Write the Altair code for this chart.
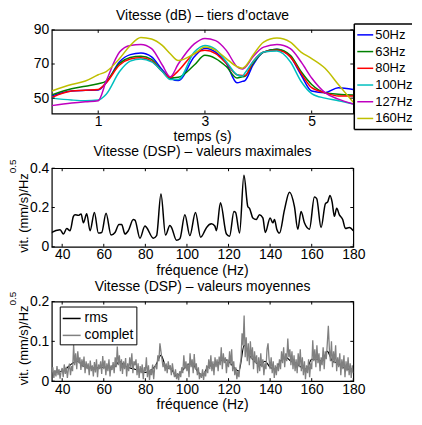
import altair as alt
import pandas as pd

FONT = "Liberation Sans"

# ---------------- top panel: levels (dB) per third-octave band vs time
times = [0.13, 0.5, 0.76, 1.0, 1.15, 1.4, 1.6, 1.8, 2.0, 2.2, 2.35, 2.5, 2.8, 3.0,
         3.2, 3.4, 3.6, 3.7, 3.75, 3.9, 4.1, 4.35, 4.6, 4.8, 5.0, 5.25, 5.5, 5.78]
band_names = ["50Hz", "63Hz", "80Hz", "100Hz", "127Hz", "160Hz"]
band_colors = ["#0000ff", "#008000", "#ff0000", "#00bfbf", "#bf00bf", "#bfbf00"]
lvl_50 = [51.3, 54.2, 54.6, 54.8, 59.0, 71.3, 75.5, 76.5, 74.2, 66.6, 61.8, 60.3, 74.2, 79.3,
          77.0, 70.4, 59.0, 59.8, 60.3, 69.4, 77.0, 78.6, 74.2, 63.7, 54.2, 53.2, 56.1, 55.1]
lvl_63 = [51.9, 55.5, 57.0, 58.4, 60.0, 70.4, 73.8, 74.6, 72.7, 65.6, 61.8, 62.2, 69.4, 75.1,
          73.2, 68.5, 61.8, 62.5, 62.8, 70.4, 77.0, 78.6, 75.1, 65.6, 58.0, 53.2, 52.3, 51.9]
lvl_80 = [50.4, 54.2, 54.6, 55.1, 59.0, 69.4, 72.9, 73.6, 71.7, 65.6, 62.3, 66.0, 76.1, 78.0,
          76.1, 70.4, 63.7, 63.3, 63.3, 71.3, 77.0, 78.0, 74.2, 64.7, 56.1, 53.2, 51.3, 51.3]
lvl_100 = [50.0, 48.9, 48.5, 48.9, 52.3, 65.6, 71.7, 72.9, 71.3, 65.6, 60.9, 60.9, 77.0, 80.9,
           78.6, 71.3, 63.7, 62.8, 64.7, 71.3, 77.0, 77.6, 71.3, 59.9, 52.7, 50.0, 48.5, 46.6]
lvl_127 = [45.6, 47.1, 47.9, 48.5, 60.0, 77.0, 80.9, 81.4, 79.0, 69.4, 62.5, 70.0, 81.8, 85.0,
           83.7, 78.0, 68.5, 67.0, 67.9, 74.2, 79.9, 81.4, 79.0, 71.3, 61.8, 53.2, 49.4, 46.6]
lvl_160 = [54.2, 58.0, 60.0, 63.7, 65.6, 73.2, 80.9, 85.6, 84.7, 80.9, 76.0, 72.0, 76.0, 79.9,
           78.0, 73.2, 68.5, 67.5, 68.5, 75.1, 82.8, 85.2, 82.8, 77.0, 73.2, 67.5, 58.0, 47.5]
top_xticks = [1, 3, 5]
top_yticks = [50, 70, 90]

# ---------------- middle panel: PSD maxima
max_f = [34.7, 35.0, 39.0, 40.6, 42.2, 43.8, 45.4, 46.2, 47.8, 49.1, 50.2, 51.8, 53.4, 55.5,
         57.4, 59.0, 61.1, 63.5, 65.4, 67.3, 68.6, 70.2, 71.8, 74.2, 75.0, 77.4, 79.8, 80.6,
         83.8, 85.4, 87.5, 89.7, 91.8, 92.6, 95.0, 96.6, 99.0, 101.4, 104.1, 106.6, 108.6,
         109.4, 111.8, 113.4, 114.2, 116.1, 119.0, 120.5, 122.6, 123.4, 125.3, 127.4, 129.3,
         130.1, 131.7, 133.3, 134.9, 136.5, 137.7, 140.0, 141.3, 142.1, 143.2, 144.5, 146.9,
         149.3, 151.7, 153.3, 154.9, 156.5, 158.9, 161.3, 162.4, 164.5, 166.6, 167.7, 168.8,
         169.8, 170.9, 172.0, 173.3, 174.9, 176.2, 178.1, 180.0]
max_v = [0.069, 0.073, 0.087, 0.065, 0.093, 0.082, 0.155, 0.163, 0.160, 0.167, 0.122, 0.168,
         0.082, 0.175, 0.070, 0.073, 0.171, 0.060, 0.073, 0.114, 0.114, 0.065, 0.082, 0.139,
         0.136, 0.044, 0.106, 0.098, 0.044, 0.057, 0.269, 0.060, 0.109, 0.098, 0.033, 0.041,
         0.163, 0.057, 0.175, 0.049, 0.082, 0.098, 0.118, 0.106, 0.082, 0.224, 0.065, 0.054,
         0.180, 0.175, 0.070, 0.364, 0.204, 0.196, 0.147, 0.139, 0.163, 0.147, 0.073, 0.147,
         0.122, 0.139, 0.090, 0.070, 0.188, 0.278, 0.204, 0.090, 0.180, 0.122, 0.090, 0.253,
         0.245, 0.098, 0.220, 0.229, 0.261, 0.229, 0.155, 0.196, 0.163, 0.139, 0.093, 0.098,
         0.082]
max_yticks = [0, 0.2, 0.4]
freq_ticks = [40, 60, 80, 100, 120, 140, 160, 180]

# ---------------- bottom panel: PSD averages (complete spectrum, 0.5 Hz steps from 35 Hz)
full_start, full_step = 35.0, 0.5
full_v_milli = [
    20, 35, 8, 28, 12, 38, 15, 30, 6, 25,
    33, 10, 42, 18, 36, 8, 30, 44, 15, 38,
    25, 92, 40, 70, 30, 75, 45, 60, 28, 55,
    35, 62, 20, 50, 30, 45, 15, 52, 25, 40,
    12, 48, 22, 55, 10, 42, 30, 50, 18, 63,
    30, 52, 15, 45, 25, 55, 12, 40, 28, 48,
    20, 60, 35, 87, 40, 65, 25, 55, 18, 50,
    30, 58, 12, 45, 25, 60, 35, 70, 20, 50,
    40, 55, 15, 45, 8, 38, 20, 42, 5, 35,
    25, 60, 10, 40, 3, 30, 15, 42, 5, 35,
    40, 30, 65, 50, 95, 75, 55, 35, 48, 25,
    45, 20, 50, 30, 40, 15, 45, 25, 10, 30,
    5, 20, 2, 25, 10, 35, 20, 65, 30, 50,
    25, 45, 10, 70, 35, 55, 20, 68, 30, 45,
    15, 35, 5, 20, 8, 30, 3, 25, 12, 40,
    20, 55, 30, 65, 25, 50, 15, 60, 35, 55,
    25, 62, 40, 85, 30, 70, 45, 60, 20, 55,
    35, 75, 40, 80, 25, 50, 15, 35, 5, 25,
    10, 40, 55, 120, 90, 165, 60, 110, 50, 95,
    40, 100, 55, 85, 30, 75, 45, 65, 20, 60,
    25, 70, 35, 55, 15, 45, 30, 80, 95, 55,
    30, 60, 20, 50, 8, 40, 15, 45, 25, 55,
    30, 75, 45, 85, 35, 70, 50, 107, 60, 80,
    40, 75, 30, 65, 25, 55, 20, 70, 35, 80,
    25, 60, 15, 50, 5, 40, 20, 55, 10, 45,
    30, 103, 50, 80, 35, 90, 45, 70, 25, 60,
    40, 85, 30, 75, 55, 95, 139, 80, 50, 100,
    35, 75, 45, 90, 25, 60, 35, 70, 15, 55,
    30, 65, 10, 50, 25, 60, 15, 45, 8, 40,
    20,
]
rms_f = [35, 40, 45, 47.5, 50, 55, 60, 65, 67.5, 70, 75, 80, 85, 87.5, 90, 92.5, 95, 97.5,
         100, 102.5, 105, 107.5, 110, 115, 117.5, 120, 122.5, 125, 127.5, 130, 132.5, 135,
         137.5, 140, 142.5, 145, 147.5, 150, 152.5, 155, 157.5, 160, 162.5, 165, 167.5, 170,
         172.5, 175, 177.5, 180]
rms_v = [0.022, 0.025, 0.045, 0.05, 0.038, 0.033, 0.035, 0.035, 0.05, 0.038, 0.03, 0.022,
         0.04, 0.065, 0.035, 0.03, 0.012, 0.025, 0.04, 0.045, 0.025, 0.015, 0.035, 0.045,
         0.055, 0.05, 0.035, 0.025, 0.09, 0.065, 0.05, 0.04, 0.05, 0.035, 0.03, 0.05, 0.06,
         0.05, 0.045, 0.035, 0.03, 0.055, 0.055, 0.05, 0.075, 0.05, 0.045, 0.035, 0.03, 0.03]
avg_yticks = [0, 0.1, 0.2]
avg_names = ["rms", "complet"]
avg_colors = ["#000000", "#808080"]

# ---------------- geometry
W = 303
H1, H2, H3 = 84, 79, 80
one = pd.DataFrame({"a": [0]})


def tick_marks(xvals, yvals, xenc_axis, yenc_axis, xscale, yscale, h):
    dx = pd.DataFrame({"v": xvals})
    dy = pd.DataFrame({"v": yvals})
    xs = alt.X("v:Q", scale=xscale, axis=xenc_axis)
    ys = alt.Y("v:Q", scale=yscale, axis=yenc_axis)
    return [
        alt.Chart(dx).mark_rule(color="black").encode(x=xs, y=alt.value(h), y2=alt.value(h - 3)),
        alt.Chart(dx).mark_rule(color="black").encode(x=xs, y=alt.value(0), y2=alt.value(3)),
        alt.Chart(dy).mark_rule(color="black").encode(y=ys, x=alt.value(0), x2=alt.value(3)),
        alt.Chart(dy).mark_rule(color="black").encode(y=ys, x=alt.value(W), x2=alt.value(W - 3)),
    ]


def ylabel(end_y):
    main = alt.Chart(one).mark_text(
        text="vit. (mm/s)/Hz", angle=270, align="right", baseline="alphabetic",
        fontSize=13, font=FONT, color="black",
    ).encode(x=alt.value(-24), y=alt.value(end_y))
    sup = alt.Chart(one).mark_text(
        text="0.5", angle=270, align="left", baseline="alphabetic",
        fontSize=10, font=FONT, color="black",
    ).encode(x=alt.value(-36), y=alt.value(end_y))
    return [main, sup]


def label(txt, y):
    return alt.Chart(one).mark_text(
        text=txt, align="center", baseline="alphabetic", fontSize=14, font=FONT, color="black",
    ).encode(x=alt.value(W / 2), y=alt.value(y))


def xaxis(vals):
    return alt.Axis(values=vals, title=None, labelPadding=1, labelFlush=False,
                    labelOverlap=False)


def yaxis(vals, fmt=None):
    if fmt:
        return alt.Axis(values=vals, title=None, labelPadding=3, labelFlush=False, format=fmt)
    return alt.Axis(values=vals, title=None, labelPadding=3, labelFlush=False)


# ---------- top chart
top_rows = []
for name, vals in zip(band_names, [lvl_50, lvl_63, lvl_80, lvl_100, lvl_127, lvl_160]):
    for t, v in zip(times, vals):
        top_rows.append({"t": t, "v": v, "band": name})
top_df = pd.DataFrame(top_rows)
tx = alt.Scale(domain=[0.13, 5.78], nice=False, zero=False, padding=0)
ty = alt.Scale(domain=[41, 90], nice=False, zero=False, padding=0)
band_color = alt.Scale(domain=band_names, range=band_colors)
top_xaxis = xaxis(top_xticks)

top_lines = alt.Chart(top_df).mark_line(interpolate="monotone", strokeWidth=1.5, clip=True).encode(
    x=alt.X("t:Q", scale=tx, axis=top_xaxis),
    y=alt.Y("v:Q", scale=ty, axis=yaxis(top_yticks)),
    color=alt.Color("band:N", scale=band_color, legend=None),
)
LX0, LX1, LY0, LY1 = 304, 362, -6, 100
leg_bg = alt.Chart(one).mark_rect(fill="white").encode(
    x=alt.value(LX0), x2=alt.value(LX1), y=alt.value(LY0), y2=alt.value(LY1))
leg_top = alt.Chart(one).mark_rule(color="black", strokeWidth=1.5).encode(
    x=alt.value(LX0), x2=alt.value(LX1), y=alt.value(LY0))
leg_bot = alt.Chart(one).mark_rule(color="black", strokeWidth=1.5).encode(
    x=alt.value(LX0), x2=alt.value(LX1), y=alt.value(LY1))
leg_left = alt.Chart(one).mark_rule(color="black", strokeWidth=1.5).encode(
    x=alt.value(LX0), y=alt.value(LY0), y2=alt.value(LY1))
leg_df = pd.DataFrame({"band": band_names})
leg_y = alt.Y("band:N", scale=alt.Scale(type="point", domain=band_names, range=[5, 89], padding=0),
              axis=None)
leg_sym = alt.Chart(leg_df).mark_rule(strokeWidth=1.5).encode(
    x=alt.value(307), x2=alt.value(323), y=leg_y,
    color=alt.Color("band:N", scale=band_color, legend=None))
leg_txt = alt.Chart(leg_df).mark_text(align="left", baseline="middle", fontSize=13, font=FONT,
                                      color="black").encode(
    x=alt.value(325), y=leg_y, text="band:N")

top = alt.layer(
    top_lines, *tick_marks(top_xticks, top_yticks, top_xaxis, None, tx, ty, H1),
    leg_bg, leg_top, leg_bot, leg_left, leg_sym, leg_txt,
    label("Vitesse (dB) – tiers d’octave", -10),
    label("temps (s)", H1 + 27.5),
).resolve_scale(y="independent").properties(width=W, height=H1)

# ---------- middle chart
fx = alt.Scale(domain=[35, 180], nice=False, zero=False, padding=0)
my = alt.Scale(domain=[0, 0.4], nice=False, padding=0)
freq_axis = xaxis(freq_ticks)
mid_yaxis = yaxis(max_yticks, "~g")
max_df = pd.DataFrame({"f": max_f, "v": max_v})
mid_line = alt.Chart(max_df).mark_line(interpolate="monotone", color="black", strokeWidth=1.5,
                                       clip=True).encode(
    x=alt.X("f:Q", scale=fx, axis=freq_axis),
    y=alt.Y("v:Q", scale=my, axis=mid_yaxis),
)
mid = alt.layer(
    mid_line, *tick_marks(freq_ticks, max_yticks, freq_axis, mid_yaxis, fx, my, H2),
    *ylabel(5), label("Vitesse (DSP) – valeurs maximales", -12.5),
    label("fréquence (Hz)", H2 + 28),
).properties(width=W, height=H2)

# ---------- bottom chart
ay = alt.Scale(domain=[0, 0.2], nice=False, padding=0)
bot_yaxis = yaxis(avg_yticks, "~g")
full_df = pd.DataFrame({
    "f": [full_start + full_step * i for i in range(len(full_v_milli))],
    "v": [m / 1000 for m in full_v_milli],
    "s": "complet",
})
rms_df = pd.DataFrame({"f": rms_f, "v": rms_v, "s": "rms"})
avg_color = alt.Color("s:N", scale=alt.Scale(domain=avg_names, range=avg_colors),
                      legend=alt.Legend(orient="none", legendX=8, legendY=5, title=None,
                                        strokeColor="black", fillColor="white", padding=2,
                                        symbolType="stroke", symbolSize=324,
                                        symbolStrokeWidth=1.5, labelFontSize=14,
                                        labelFont=FONT, labelColor="black", rowPadding=0,
                                        labelOffset=3))
rms_line = alt.Chart(rms_df).mark_line(interpolate="monotone", strokeWidth=1.2, clip=True).encode(
    x=alt.X("f:Q", scale=fx, axis=freq_axis),
    y=alt.Y("v:Q", scale=ay, axis=bot_yaxis),
    color=avg_color,
)
full_line = alt.Chart(full_df).mark_line(strokeWidth=1.3, clip=True).encode(
    x=alt.X("f:Q", scale=fx, axis=freq_axis),
    y=alt.Y("v:Q", scale=ay, axis=bot_yaxis),
    color=avg_color,
)
bot = alt.layer(
    rms_line, full_line, *tick_marks(freq_ticks, avg_yticks, freq_axis, bot_yaxis, fx, ay, H3),
    *ylabel(4), label("Vitesse (DSP) – valeurs moyennes", -11),
    label("fréquence (Hz)", H3 + 28),
).properties(width=W, height=H3)

chart = alt.vconcat(top, mid, bot, spacing=55, bounds="flush").resolve_scale(
    color="independent"
).properties(
    padding={"left": -1, "top": -1, "right": 0, "bottom": 0}
).configure_view(stroke="black", strokeWidth=1.2).configure_axis(
    domain=False, ticks=False, tickSize=0, grid=False, labelFont=FONT, labelFontSize=14,
    labelColor="black", titleFont=FONT, titleFontSize=14, titleFontWeight="normal",
    titleColor="black",
).configure_text(font=FONT)

chart.save("out.html", embed_options={"renderer": "svg", "actions": False})
